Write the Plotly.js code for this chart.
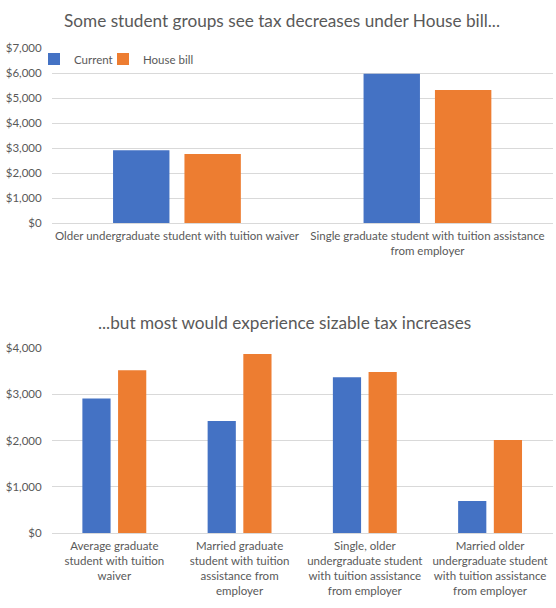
<!DOCTYPE html>
<html>
<head>
<meta charset="utf-8">
<script src="https://cdn.plot.ly/plotly-3.0.1.min.js"></script>
<style>html,body{margin:0;padding:0;background:#fff;}#chart{width:556px;height:608px;}</style>
</head>
<body>
<div id="chart"></div>
<script>
// Data
const seriesNames = ["Current", "House bill"];
const topCategories = [
  "Older undergraduate student with tuition waiver",
  "Single graduate student with tuition assistance<br>from employer"
];
const topCurrent = [2920, 5980];
const topHouseBill = [2760, 5330];

const bottomCategories = [
  "Average graduate<br>student with tuition<br>waiver",
  "Married graduate<br>student with tuition<br>assistance from<br>employer",
  "Single, older<br>undergraduate student<br>with tuition assistance<br>from employer",
  "Married older<br>undergraduate student<br>with tuition assistance<br>from employer"
];
const bottomCurrent = [2910, 2420, 3370, 690];
const bottomHouseBill = [3520, 3870, 3480, 2010];

const topTitle = "Some student groups see tax decreases under House bill...";
const bottomTitle = "...but most would experience sizable tax increases";

const topTicks = [0, 1000, 2000, 3000, 4000, 5000, 6000, 7000];
const topTickLabels = ["$0", "$1,000", "$2,000", "$3,000", "$4,000", "$5,000", "$6,000", "$7,000"];
const bottomTicks = [0, 1000, 2000, 3000, 4000];
const bottomTickLabels = ["$0", "$1,000", "$2,000", "$3,000", "$4,000"];

// Styling
const W = 556, H = 608;
const FONT = "Lato, 'Open Sans', sans-serif";
const GRAY = "#595959";
const BLUE = "#4472C4";
const ORANGE = "#ED7D31";
const py = p => 1 - p / H;
const px = p => p / W;

const traces = [
  {type: "bar", name: seriesNames[0], x: topCategories, y: topCurrent, marker: {color: BLUE}, xaxis: "x", yaxis: "y", legend: "legend", showlegend: true, hoverinfo: "skip"},
  {type: "bar", name: seriesNames[1], x: topCategories, y: topHouseBill, marker: {color: ORANGE}, xaxis: "x", yaxis: "y", legend: "legend2", showlegend: true, hoverinfo: "skip"},
  {type: "bar", name: seriesNames[0], x: bottomCategories, y: bottomCurrent, marker: {color: BLUE}, xaxis: "x2", yaxis: "y2", showlegend: false, hoverinfo: "skip"},
  {type: "bar", name: seriesNames[1], x: bottomCategories, y: bottomHouseBill, marker: {color: ORANGE}, xaxis: "x2", yaxis: "y2", showlegend: false, hoverinfo: "skip"}
];

const tickFont = {family: FONT, size: 11.5, color: GRAY};
const yBase = {
  tickmode: "array", showgrid: true, gridcolor: "#d9d9d9", gridwidth: 1,
  zeroline: false, showline: false, ticks: "", tickfont: tickFont, ticklabelstandoff: 9, fixedrange: true
};
const xBase = {
  showline: true, linecolor: "#d9d9d9", linewidth: 1, ticks: "", tickfont: tickFont, tickangle: 0,
  ticklabelstandoff: 2, fixedrange: true
};
const legendBase = {orientation: "h", xanchor: "left", y: py(59), yanchor: "middle",
  font: {family: FONT, size: 11.5, color: GRAY}, bgcolor: "rgba(0,0,0,0)", itemwidth: 30};

const layout = {
  width: W, height: H,
  margin: {l: 0, r: 0, t: 0, b: 0},
  paper_bgcolor: "#fff", plot_bgcolor: "#fff",
  barmode: "group", bargap: 0.43, bargroupgap: 0.21,
  font: {family: FONT, color: GRAY},
  showlegend: true,
  legend: Object.assign({}, legendBase, {x: px(34)}),
  legend2: Object.assign({}, legendBase, {x: px(103)}),
  xaxis: Object.assign({}, xBase, {domain: [px(51.7), px(552.7)], anchor: "y"}),
  yaxis: Object.assign({}, yBase, {domain: [py(223), py(48.3)], range: [0, 7000], tickvals: topTicks, ticktext: topTickLabels, anchor: "x"}),
  xaxis2: Object.assign({}, xBase, {domain: [px(51.7), px(552.7)], anchor: "y2"}),
  yaxis2: Object.assign({}, yBase, {domain: [py(533), py(348)], range: [0, 4000], tickvals: bottomTicks, ticktext: bottomTickLabels, anchor: "x2"}),
  annotations: [
    {text: topTitle, xref: "paper", yref: "paper", x: px(282), y: py(21), xanchor: "center", yanchor: "middle",
     showarrow: false, font: {family: FONT, size: 17.2, color: GRAY}},
    {text: bottomTitle, xref: "paper", yref: "paper", x: px(284), y: py(322), xanchor: "center", yanchor: "middle",
     showarrow: false, font: {family: FONT, size: 17.2, color: GRAY}}
  ]
};

Plotly.newPlot("chart", traces, layout, {displayModeBar: false, staticPlot: true});
</script>
</body>
</html>
